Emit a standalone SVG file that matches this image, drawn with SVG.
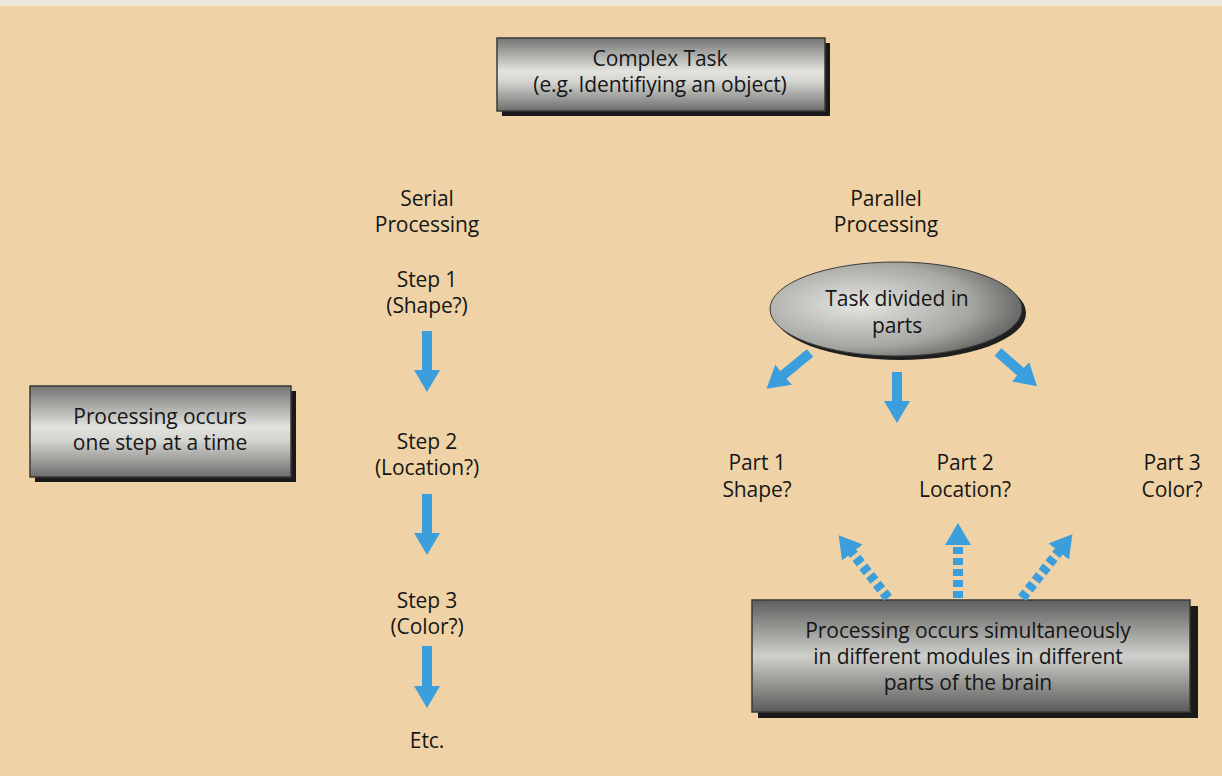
<svg xmlns="http://www.w3.org/2000/svg" width="1222" height="776" viewBox="0 0 1222 776">
<style>
.t{font-family:"Open Sans","Noto Sans",sans-serif;font-size:21px;fill:#161616;text-anchor:middle;letter-spacing:-0.1px}
.ar{stroke:#3a9fdc;stroke-width:10;fill:none;marker-end:url(#ah)}
.da{stroke:#3a9fdc;stroke-width:10;fill:none;stroke-dasharray:7 4;marker-end:url(#ah)}
.box{fill:url(#metal);stroke:#3a3a3a;stroke-width:1.5}
.sh{fill:#1a1a1a}
</style>
<defs>
<linearGradient id="metal" x1="0" y1="0" x2="0" y2="1">
<stop offset="0" stop-color="#747472"/>
<stop offset="0.45" stop-color="#e2e2df"/>
<stop offset="0.6" stop-color="#d4d4d1"/>
<stop offset="1" stop-color="#6e6e6c"/>
</linearGradient>
<linearGradient id="metal2" x1="0" y1="0" x2="0" y2="1">
<stop offset="0" stop-color="#5e5e5c"/>
<stop offset="0.5" stop-color="#cfcfcc"/>
<stop offset="1" stop-color="#5a5a58"/>
</linearGradient>
<radialGradient id="ell" cx="0.35" cy="0.45" r="0.75">
<stop offset="0" stop-color="#e6e6e3"/>
<stop offset="0.6" stop-color="#a6a6a3"/>
<stop offset="1" stop-color="#4a4a48"/>
</radialGradient>
<marker id="ah" markerUnits="userSpaceOnUse" markerWidth="26" markerHeight="26" viewBox="0 0 26 26" refX="2" refY="13" orient="auto">
<path d="M0,0 L22,13 L0,26 z" fill="#3a9fdc"/>
</marker>
</defs>
<rect width="1222" height="776" fill="#efd3a6"/>
<rect width="1222" height="6" fill="#ece6dc"/>

<g id="complex-task">
<rect class="sh" x="502" y="43" width="328" height="73"/>
<rect class="box" x="497" y="38" width="328" height="73"/>
<text class="t" x="660" y="66">Complex Task</text>
<text class="t" x="660" y="92">(e.g. Identifiying an object)</text>
</g>

<g id="serial-label">
<text class="t" x="427" y="206">Serial</text>
<text class="t" x="427" y="232">Processing</text>
</g>
<g id="step1">
<text class="t" x="427" y="287">Step 1</text>
<text class="t" x="427" y="313">(Shape?)</text>
</g>
<g id="step2">
<text class="t" x="427" y="449">Step 2</text>
<text class="t" x="427" y="475">(Location?)</text>
</g>
<g id="step3">
<text class="t" x="427" y="608">Step 3</text>
<text class="t" x="427" y="634">(Color?)</text>
</g>
<g id="etc">
<text class="t" x="427" y="748">Etc.</text>
</g>

<g id="serial-note">
<rect class="sh" x="35" y="391" width="261" height="91"/>
<rect class="box" x="30" y="386" width="261" height="91"/>
<text class="t" x="160" y="424">Processing occurs</text>
<text class="t" x="160" y="450">one step at a time</text>
</g>

<g id="parallel-label">
<text class="t" x="886" y="206">Parallel</text>
<text class="t" x="886" y="232">Processing</text>
</g>

<g id="task-divided">
<ellipse cx="900" cy="313" rx="126" ry="47" fill="#1f1f1f"/>
<ellipse cx="896" cy="309" rx="126" ry="47" fill="url(#ell)" stroke="#3a3a3a" stroke-width="1"/>
<text class="t" x="897" y="306">Task divided in</text>
<text class="t" x="897" y="333">parts</text>
</g>

<g id="part1">
<text class="t" x="757" y="470">Part 1</text>
<text class="t" x="757" y="497">Shape?</text>
</g>
<g id="part2">
<text class="t" x="965" y="470">Part 2</text>
<text class="t" x="965" y="497">Location?</text>
</g>
<g id="part3">
<text class="t" x="1172" y="470">Part 3</text>
<text class="t" x="1172" y="497">Color?</text>
</g>

<g id="parallel-note">
<rect class="sh" x="758" y="606" width="440" height="112"/>
<rect x="752" y="600" width="438" height="112" fill="url(#metal2)" stroke="#3a3a3a" stroke-width="1.5"/>
<text class="t" x="968" y="638">Processing occurs simultaneously</text>
<text class="t" x="968" y="664">in different modules in different</text>
<text class="t" x="968" y="690">parts of the brain</text>
</g>

<g id="connectors">
<line class="ar" x1="427" y1="331" x2="427" y2="372"/>
<line class="ar" x1="427" y1="494" x2="427" y2="535"/>
<line class="ar" x1="427" y1="646" x2="427" y2="688"/>
<line class="ar" x1="810" y1="353" x2="782" y2="376"/>
<line class="ar" x1="897" y1="372" x2="897" y2="403"/>
<line class="ar" x1="998" y1="352" x2="1022" y2="373"/>
<line class="da" x1="888" y1="598" x2="851" y2="551"/>
<line class="da" x1="958" y1="598" x2="958" y2="543"/>
<line class="da" x1="1022" y1="598" x2="1060" y2="550"/>
</g>
</svg>
